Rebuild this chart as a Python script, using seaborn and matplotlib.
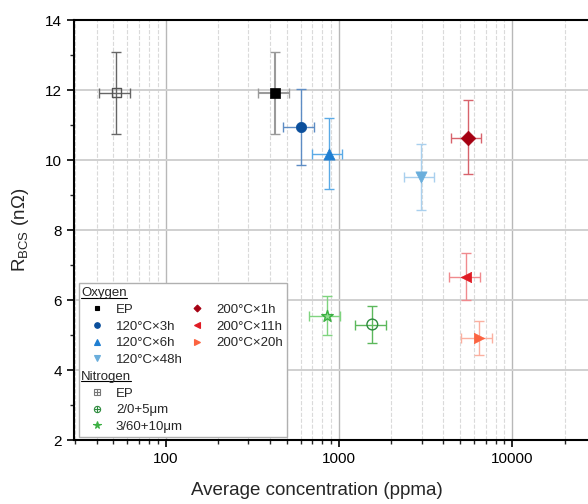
import matplotlib
matplotlib.use("Agg")
import matplotlib.pyplot as plt
import seaborn as sns
from matplotlib.lines import Line2D
from matplotlib.legend_handler import HandlerTuple
from matplotlib.ticker import LogLocator, MultipleLocator, FuncFormatter, NullFormatter

sns.set_theme(style="ticks")
plt.rcParams['font.family'] = ['Liberation Sans', 'DejaVu Sans']
plt.rcParams['mathtext.fontset'] = 'custom'
plt.rcParams['mathtext.rm'] = 'Liberation Sans'
plt.rcParams['mathtext.it'] = 'Liberation Sans:italic'

# data
labels = ['EP', '120°C×3h', '120°C×6h', '120°C×48h', '200°C×1h', '200°C×11h', '200°C×20h',
          'EP', '2/0+5μm', '3/60+10μm']
gas = ['Oxygen'] * 7 + ['Nitrogen'] * 3
conc = [428, 604, 873, 2972, 5534, 5385, 6430, 52, 1556, 849]
conc_lo = [342, 478, 695, 2383, 4426, 4335, 5085, 41.4, 1242, 674]
conc_hi = [513, 720, 1045, 3548, 6622, 6535, 7640, 62.2, 1875, 1019]
rbcs = [11.92, 10.94, 10.18, 9.51, 10.64, 6.67, 4.91, 11.92, 5.30, 5.55]
rbcs_lo = [10.73, 9.85, 9.16, 8.56, 9.59, 5.99, 4.42, 10.73, 4.76, 4.99]
rbcs_hi = [13.10, 12.03, 11.19, 10.47, 11.71, 7.33, 5.41, 13.10, 5.82, 6.11]

# styles
markers = ['s', 'o', '^', 'v', 'D', '<', '>', 's', 'o', '*']
mcolors = ['#000000', '#0b4f9c', '#1f7fd2', '#6aaedc', '#a50012', '#e01b24', '#fb6340',
           '#555555', '#2e8b3e', '#3cb043']
ecolors = ['#9a9a9a', '#5d8cc4', '#5aaae6', '#a9d0ee', '#d8636c', '#f08a8e', '#fbb0a0',
           '#666666', '#5cb85c', '#7fd47f']
filled = [True] * 7 + [False, False, True]
sizes = [42, 55, 65, 65, 55, 55, 55, 42, 60, 75]

fig = plt.figure(figsize=(5.88, 5.04), dpi=100)
ax = fig.add_axes([74 / 588, 64 / 504, 514 / 588, 420 / 504])

for i in range(len(labels)):
    ax.errorbar(conc[i], rbcs[i],
                xerr=[[conc[i] - conc_lo[i]], [conc_hi[i] - conc[i]]],
                yerr=[[rbcs[i] - rbcs_lo[i]], [rbcs_hi[i] - rbcs[i]]],
                fmt='none', ecolor=ecolors[i], elinewidth=1.5 if i == 0 else 1.0,
                capsize=3.5, capthick=1.0, zorder=2)
    if filled[i] and markers[i] != '*':
        sns.scatterplot(x=[conc[i]], y=[rbcs[i]], marker=markers[i], s=sizes[i],
                        color=mcolors[i], edgecolor=mcolors[i], linewidth=0.5,
                        ax=ax, zorder=3, legend=False)
    elif markers[i] == '*':
        sns.scatterplot(x=[conc[i]], y=[rbcs[i]], marker='*', s=sizes[i],
                        color='#8fdc8f', edgecolor=mcolors[i], linewidth=1.0,
                        ax=ax, zorder=3, legend=False)
    else:
        sns.scatterplot(x=[conc[i]], y=[rbcs[i]], marker=markers[i], s=sizes[i],
                        color=mcolors[i], facecolor='none', edgecolor=mcolors[i],
                        linewidth=1.0, ax=ax, zorder=3, legend=False)

ax.set_xscale('log')
ax.set_xlim(29.6, 27300)
ax.set_ylim(2, 14)
ax.xaxis.set_major_locator(LogLocator(base=10, numticks=10))
ax.xaxis.set_minor_locator(LogLocator(base=10, subs=range(2, 10), numticks=20))
ax.xaxis.set_major_formatter(FuncFormatter(lambda v, p: f'{v:.0f}'))
ax.xaxis.set_minor_formatter(NullFormatter())
ax.yaxis.set_major_locator(MultipleLocator(2))
ax.yaxis.set_minor_locator(MultipleLocator(1))

ax.xaxis.grid(True, which='major', color='#b8b8b8', lw=1.0)
ax.xaxis.grid(True, which='minor', color='#dadada', lw=0.8, ls='--')
ax.yaxis.grid(True, which='major', color='#d0d0d0', lw=1.4)
ax.set_axisbelow(True)

for s in ['left', 'bottom', 'top']:
    ax.spines[s].set_color('black')
    ax.spines[s].set_linewidth(1.5)
ax.spines['right'].set_visible(False)
ax.tick_params(which='major', direction='out', length=5, width=1.2, labelsize=11,
               colors='black', top=False, right=False)
ax.tick_params(which='minor', direction='out', length=3, width=1.0, top=False, right=False)

ax.set_xlabel('Average concentration (ppma)', fontsize=13.5)
ax.set_ylabel(r'R$_{\mathrm{BCS}}$ (nΩ)', fontsize=13.5, labelpad=10)
ax.xaxis.set_label_coords(0.472, -0.100)


def mk(m, c, ms=4, fill=True):
    return Line2D([], [], ls='none', marker=m, ms=ms, color=c,
                  markerfacecolor=c if fill else 'none', markeredgecolor=c, markeredgewidth=0.8)


blank = Line2D([], [], ls='none')
handles = [blank, mk('s', mcolors[0], 3.5), mk('o', mcolors[1]), mk('^', mcolors[2]),
           mk('v', mcolors[3]), blank,
           (mk('s', '#777777', 4, False), mk('+', '#777777', 4)),
           (mk('o', mcolors[8], 4.5, False), mk('+', mcolors[8], 4.5)),
           mk('*', mcolors[9], 5.5),
           blank, mk('D', mcolors[4], 3.5), mk('<', mcolors[5]), mk('>', mcolors[6]),
           blank, blank, blank, blank, blank]
leg_labels = ['Oxygen', labels[0], labels[1], labels[2], labels[3], 'Nitrogen',
              labels[7], labels[8], labels[9],
              '', labels[4], labels[5], labels[6], '', '', '', '', '']
leg = ax.legend(handles, leg_labels, ncol=2, loc='upper left',
                bbox_to_anchor=(79 / 588, 1 - 283 / 504), bbox_transform=fig.transFigure,
                borderaxespad=0, fontsize=9.5, handlelength=2.2, handletextpad=0.3,
                columnspacing=0.0, labelspacing=0.34, borderpad=0.3,
                frameon=True, fancybox=False, edgecolor='#b0b0b0', framealpha=1,
                handler_map={tuple: HandlerTuple(ndivide=1)})
leg.get_frame().set_linewidth(1.0)

fig.canvas.draw()
renderer = fig.canvas.get_renderer()
frame_bb = leg.get_frame().get_window_extent(renderer)
for idx, name in [(0, 'Oxygen'), (5, 'Nitrogen')]:
    t = leg.get_texts()[idx]
    bb = t.get_window_extent(renderer)
    t.set_alpha(0)
    x0 = (frame_bb.x0 + 2) / fig.bbox.width
    y0 = bb.y0 / fig.bbox.height
    ht = fig.text(x0, y0, name, fontsize=9.5, ha='left', va='bottom', zorder=10)
    hb = ht.get_window_extent(renderer)
    yu = (hb.y0 + 1.5) / fig.bbox.height
    fig.add_artist(Line2D([hb.x0 / fig.bbox.width, hb.x1 / fig.bbox.width], [yu, yu],
                          color='black', lw=0.8, transform=fig.transFigure, zorder=10))

fig.savefig('out.png', dpi=100)
